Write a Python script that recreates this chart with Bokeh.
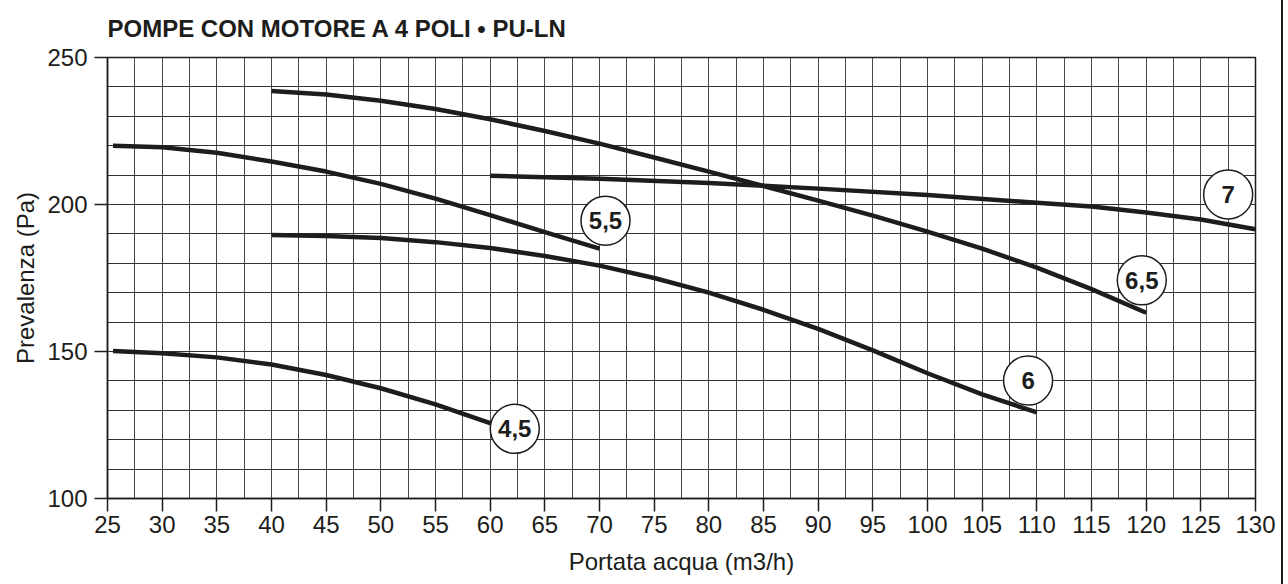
from bokeh.plotting import figure
from bokeh.models import FixedTicker, ColumnDataSource
from bokeh.core.properties import value
from bokeh.embed import file_html
from bokeh.resources import INLINE
import numpy as np

# ---- data ----
x_45 = [25.5, 30, 35, 40, 45, 50, 55, 60.2]
y_45 = [150.2, 149.4, 148.0, 145.6, 142.0, 137.5, 132.0, 125.4]

x_55 = [25.5, 30, 35, 40, 45, 50, 55, 60, 65, 70]
y_55 = [220.0, 219.5, 217.6, 214.6, 211.2, 207.0, 202.0, 196.4, 190.6, 185.0]

x_6 = [40, 45, 50, 55, 60, 65, 70, 75, 80, 85, 90, 95, 100, 105, 110]
y_6 = [189.6, 189.3, 188.6, 187.2, 185.2, 182.5, 179.2, 175.0, 170.0, 164.2, 157.7, 150.4, 142.6, 135.4, 129.3]

x_65 = [40, 45, 50, 55, 60, 65, 70, 75, 80, 85, 90, 95, 100, 105, 110, 115, 120]
y_65 = [238.6, 237.4, 235.3, 232.5, 229.0, 225.0, 220.7, 216.0, 211.2, 206.3, 201.3, 196.2, 190.8, 185.0, 178.5, 171.2, 163.2]

x_7 = [60, 70, 80, 85, 90, 100, 110, 115, 120, 125, 130]
y_7 = [209.8, 208.8, 207.3, 206.4, 205.4, 203.2, 200.6, 199.3, 197.3, 194.9, 191.6]

label_text = ["4,5", "5,5", "6", "6,5", "7"]
label_x = [62.25, 70.55, 109.2, 119.6, 127.5]
label_y = [123.7, 194.5, 140.1, 174.2, 203.4]

x_ticks = [25, 30, 35, 40, 45, 50, 55, 60, 65, 70, 75, 80, 85, 90, 95, 100, 105, 110, 115, 120, 125, 130]
y_ticks = [100, 150, 200, 250]

title_text = "POMPE CON MOTORE A 4 POLI \u2022 PU-LN"
x_label = "Portata acqua (m3/h)"
y_label = "Prevalenza (Pa)"

FONT = "Liberation Sans"
INK = "#1d1d1b"

p = figure(width=1283, height=584, x_range=(25, 130), y_range=(100, 250),
           output_backend="svg", toolbar_location=None,
           min_border_left=107, min_border_right=28, min_border_top=56, min_border_bottom=86)
p.styles = {"border-right": "2px solid #1d1d1b"}

p.title.text = title_text
p.title.text_font = FONT
p.title.text_font_size = "24px"
p.title.text_font_style = "bold"
p.title.text_color = INK
p.title.align = "left"
p.title.vertical_align = "top"
p.title.standoff = 28

# grids
p.xgrid.ticker = FixedTicker(ticks=list(np.arange(25, 130.1, 2.5)))
p.ygrid.ticker = FixedTicker(ticks=list(range(100, 251, 10)))
p.xgrid.grid_line_color = "#4a4a4a"
p.ygrid.grid_line_color = "#333333"
p.xgrid.grid_line_width = 1
p.ygrid.grid_line_width = 1
p.outline_line_color = INK
p.outline_line_width = 1.5

# axes
for ax in (p.xaxis[0], p.yaxis[0]):
    ax.axis_line_color = INK
    ax.axis_line_width = 1.5
    ax.major_tick_line_color = INK
    ax.major_tick_line_width = 1.5
    ax.major_tick_out = 13
    ax.major_tick_in = 0
    ax.minor_tick_line_color = None
    ax.major_label_text_font = FONT
    ax.major_label_text_font_size = "24px"
    ax.major_label_text_color = INK
    ax.axis_label_text_font = FONT
    ax.axis_label_text_font_size = "24px"
    ax.axis_label_text_font_style = "normal"
    ax.axis_label_text_color = INK

p.xaxis.ticker = FixedTicker(ticks=x_ticks)
p.yaxis.ticker = FixedTicker(ticks=y_ticks)
p.xaxis.major_label_standoff = 4
p.yaxis.major_label_standoff = 7
p.xaxis.axis_label = x_label
p.yaxis.axis_label = y_label
p.xaxis.axis_label_standoff = 12
p.yaxis.axis_label_standoff = 5

# curves
for xs, ys in ((x_45, y_45), (x_55, y_55), (x_6, y_6), (x_65, y_65), (x_7, y_7)):
    p.line(xs, ys, line_color=INK, line_width=4.5, line_join="round", line_cap="butt")

# circled labels
src = ColumnDataSource(dict(x=label_x, y=label_y, t=label_text))
p.scatter("x", "y", source=src, marker="circle", size=49,
          fill_color="white", line_color=INK, line_width=1.5)
p.text("x", "y", text="t", source=src, text_align="center", text_baseline="middle",
       text_font=value(FONT), text_font_style="bold", text_font_size="24px", text_color=INK)

open("out.html", "w").write(file_html(p, INLINE))
